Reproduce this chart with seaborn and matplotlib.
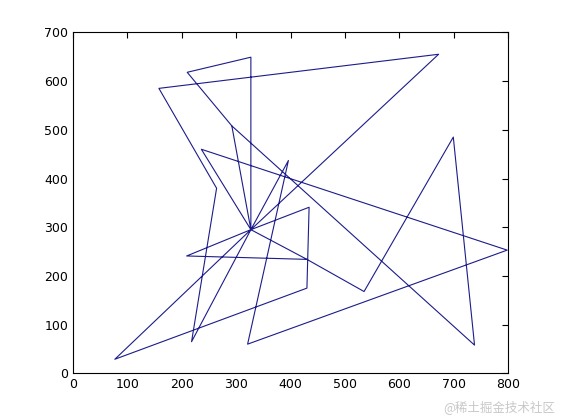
import matplotlib
matplotlib.use("Agg")
import matplotlib.pyplot as plt
import pandas as pd
import seaborn as sns

# points (hub = depot in the middle)
names = ["hub", "A", "B", "C", "D", "E", "F", "G", "H", "I", "J",
         "K", "L", "M", "N", "O", "P", "Q", "R", "S"]
xs = [327, 327, 210, 158, 292, 236, 264, 396, 434, 672, 699,
      798, 535, 738, 209, 430, 430, 77, 218, 321]
ys = [295, 649, 618, 585, 508, 460, 380, 437, 341, 655, 485,
      253, 168, 58, 241, 234, 175, 29, 65, 60]

# order in which the line visits the points
route = ["D", "B", "A", "hub", "D", "M", "J", "L", "O", "N", "hub",
         "I", "C", "F", "R", "hub", "E", "K", "S", "G", "hub",
         "H", "P", "Q", "hub", "O"]

pts = dict(zip(names, zip(xs, ys)))
df = pd.DataFrame({
    "step": range(len(route)),
    "x": [pts[n][0] for n in route],
    "y": [pts[n][1] for n in route],
})

sns.set_style("white")
plt.rcParams["font.family"] = ["DejaVu Sans"]

fig = plt.figure(figsize=(5.61, 4.2), dpi=100)
ax = fig.add_axes([0.13, 0.111, 0.776, 0.812])

sns.lineplot(data=df, x="x", y="y", sort=False, estimator=None,
             color="#1c1c8a", linewidth=0.8, ax=ax)

ax.set_xlim(0, 800)
ax.set_ylim(0, 700)
ax.set_xticks(range(0, 801, 100))
ax.set_yticks(range(0, 701, 100))
ax.set_xlabel("")
ax.set_ylabel("")
ax.tick_params(direction="in", length=4, width=0.8, top=True, right=True,
               labelsize=9, colors="black")
for s in ax.spines.values():
    s.set_visible(True)
    s.set_color("black")
    s.set_linewidth(0.8)

fig.text(0.99, 0.015, "@稀土掘金技术社区", ha="right", va="bottom",
         fontsize=9, color="#c8c8c8",
         family=["Noto Sans CJK SC", "DejaVu Sans"])

plt.savefig("out.png", dpi=100)
